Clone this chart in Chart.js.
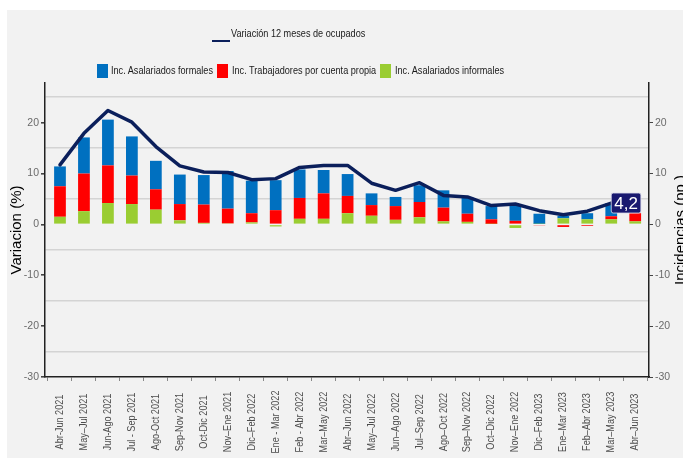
<!DOCTYPE html>
<html><head><meta charset="utf-8">
<script src="https://cdn.jsdelivr.net/npm/chart.js@4/dist/chart.umd.min.js"></script>
<style>
html,body{margin:0;padding:0;background:#fff;overflow:hidden}
#wrap{position:relative;width:683px;height:458px;overflow:hidden}
#panel{position:absolute;left:7px;top:10px;right:0;bottom:0;background:#f2f2f2}
canvas{position:absolute;left:0;top:0}
.lg{position:absolute;font-family:'Liberation Sans',Arial,sans-serif;font-size:11px;color:#1a1a1a;white-space:nowrap;line-height:13px;transform:scaleX(0.83);transform-origin:0 50%}
.sw{position:absolute;width:11px;height:14px}
</style></head><body>
<div id="wrap">
<div id="panel"></div>
<canvas id="c" width="683" height="458"></canvas>
<div style="position:absolute;left:212px;top:40px;width:18px;height:2px;background:#0b1f5b"></div>
<div class="lg" style="left:231px;top:27px">Variación 12 meses de ocupados</div>
<div class="sw" style="left:97px;top:64px;background:#0070c0"></div>
<div class="lg" style="left:111px;top:64px">Inc. Asalariados formales</div>
<div class="sw" style="left:217px;top:64px;background:#ff0000"></div>
<div class="lg" style="left:232px;top:64px">Inc. Trabajadores por cuenta propia</div>
<div class="sw" style="left:380px;top:64px;background:#9acd32"></div>
<div class="lg" style="left:395px;top:64px">Inc. Asalariados informales</div>
</div>
<script>
const categories = ["Abr-Jun 2021","May–Jul 2021","Jun-Ago 2021","Jul - Sep 2021","Ago-Oct 2021","Sep-Nov 2021","Oct-Dic 2021","Nov–Ene 2021","Dic–Feb 2022","Ene - Mar 2022","Feb - Abr 2022","Mar–May 2022","Abr–Jun 2022","May–Jul 2022","Jun–Ago 2022","Jul–Sep 2022","Ago–Oct 2022","Sep–Nov 2022","Oct–Dic 2022","Nov–Ene 2022","Dic–Feb 2023","Ene–Mar 2023","Feb–Abr 2023","Mar–May 2023","Abr–Jun 2023"];
const asalariadosFormales   = [3.9,7.1,9.0,7.7,5.6,5.8,5.8,7.4,6.4,5.9,5.6,4.6,4.3,2.3,1.8,3.3,3.4,3.3,2.6,3.3,2.0,0.5,1.2,2.6,0];
const cuentaPropia          = [6.0,7.4,7.4,5.6,4.0,3.2,3.6,2.9,1.8,2.8,4.1,5.0,3.4,2.1,2.7,3.0,2.7,1.6,0.9,0.7,-0.2,-0.5,-0.3,0.6,1.6];
const asalariadosInformales = [1.5,2.6,4.2,4.0,2.9,0.8,0.3,0.2,0.4,-0.4,1.1,1.1,2.2,1.7,0.9,1.4,0.6,0.5,0.1,-0.7,0.1,1.2,1.0,1.0,0.6];
const variacionOcupados     = [11.7,17.9,22.4,20.1,15.3,11.5,10.3,10.2,8.8,9.0,11.2,11.6,11.6,8.1,6.7,8.2,5.7,5.4,3.7,4.0,2.7,1.9,2.6,4.2,null];
const yTickLabels = [-30,-20,-10,0,10,20];

const REG = "'Liberation Sans',Arial,sans-serif";
const pts = arr => arr.map((v,i)=>({x:i,y:v}));

const overlay = {
  id:'overlay',
  afterDatasetsDraw(chart){
    const ctx = chart.ctx;
    const meta = chart.getDatasetMeta(3);
    let last = -1;
    variacionOcupados.forEach((v,i)=>{ if(v!==null) last=i; });
    const p = meta.data[last];
    const txt = String(variacionOcupados[last]).replace('.', ',');
    ctx.save();
    ctx.font = "17px " + REG;
    const w = ctx.measureText(txt).width + 6, h = 20;
    const bx = p.x, by = p.y - h/2;
    ctx.beginPath();
    ctx.roundRect(bx, by, w, h, 2);
    ctx.fillStyle = '#191970';
    ctx.fill();
    ctx.lineWidth = 1; ctx.strokeStyle = 'rgba(220,220,235,0.8)'; ctx.stroke();
    ctx.fillStyle = '#fff'; ctx.textAlign='center'; ctx.textBaseline='middle';
    ctx.fillText(txt, bx + w/2, p.y + 1);
    ctx.restore();
  },
  afterDraw(chart){
    const ctx = chart.ctx, xs = chart.scales.x, area = chart.chartArea;
    ctx.save();
    ctx.font = "11px " + REG;
    ctx.fillStyle = '#4d4d4d'; ctx.textAlign='center'; ctx.textBaseline='middle';
    categories.forEach((c,i)=>{
      ctx.save();
      ctx.translate(xs.getPixelForValue(i), 422);
      ctx.rotate(-Math.PI/2);
      ctx.scale(0.83, 1);
      ctx.fillText(c,0,0);
      ctx.restore();
    });
    ctx.font = "15px " + REG;
    ctx.fillStyle = '#000'; ctx.textBaseline='alphabetic';
    ctx.translate(685, (area.top+area.bottom)/2);
    ctx.rotate(-Math.PI/2);
    ctx.fillText('Incidencias (pp.)',0,0);
    ctx.restore();
  }
};

const yGrid = {
  drawOnChartArea:true,
  color: c => (c.tick && Math.abs(c.tick.value % 10) === 5) ? '#d4d4d4' : 'rgba(0,0,0,0)',
  tickColor: c => (c.tick && c.tick.value % 10 === 0) ? '#444' : 'rgba(0,0,0,0)',
  lineWidth: 1.6, tickLength: 4
};
const yTicks = {
  stepSize:5, includeBounds:false, padding:2, color:'#6b6b6b',
  font:{family:REG, size:10.5},
  callback: v => yTickLabels.includes(v) ? String(v) : ''
};

new Chart(document.getElementById('c'), {
  data:{
    datasets:[
      {type:'bar', label:'Inc. Asalariados informales', data:pts(asalariadosInformales), backgroundColor:'#9acd32', stack:'s', yAxisID:'y', order:1},
      {type:'bar', label:'Inc. Trabajadores por cuenta propia', data:pts(cuentaPropia), backgroundColor:'#ff0000', stack:'s', yAxisID:'y', order:1},
      {type:'bar', label:'Inc. Asalariados formales', data:pts(asalariadosFormales), backgroundColor:'#0070c0', stack:'s', yAxisID:'y', order:1},
      {type:'line', label:'Variación 12 meses de ocupados', data:pts(variacionOcupados), borderColor:'#0b1f5b', borderWidth:3.5, pointRadius:0, tension:0, spanGaps:false, borderJoinStyle:'round', borderCapStyle:'round', yAxisID:'y', order:0}
    ]
  },
  options:{
    responsive:false, animation:false,
    layout:{padding:{top:83,left:0,right:0,bottom:0}},
    plugins:{legend:{display:false}, tooltip:{enabled:false}},
    datasets:{bar:{barPercentage:0.49, categoryPercentage:1}},
    scales:{
      x:{type:'linear', min:-0.625, max:24.575, offset:false, stacked:true,
        ticks:{display:false, stepSize:1, includeBounds:false},
        grid:{drawOnChartArea:false, drawTicks:true, tickLength:4, tickColor:'#888'},
        border:{display:true, color:'#222', width:1.5},
        afterFit: s => { s.height = 81; }
      },
      y:{position:'left', min:-30, max:27.8, stacked:true,
        ticks:yTicks, grid:yGrid,
        border:{display:true, color:'#222', width:1.5},
        title:{display:true, text:'Variacion (%)', color:'#000', font:{family:REG, size:15}, padding:{top:8,bottom:0}},
        afterFit: s => { s.width = 45; }
      },
      y2:{position:'right', min:-30, max:27.8,
        ticks:yTicks,
        grid:{drawOnChartArea:false, tickLength:4, tickColor: c => (c.tick && c.tick.value % 10 === 0) ? '#444' : 'rgba(0,0,0,0)'},
        border:{display:true, color:'#222', width:1.5},
        afterFit: s => { s.width = 34; }
      }
    }
  },
  plugins:[overlay]
});
</script>
</body></html>
